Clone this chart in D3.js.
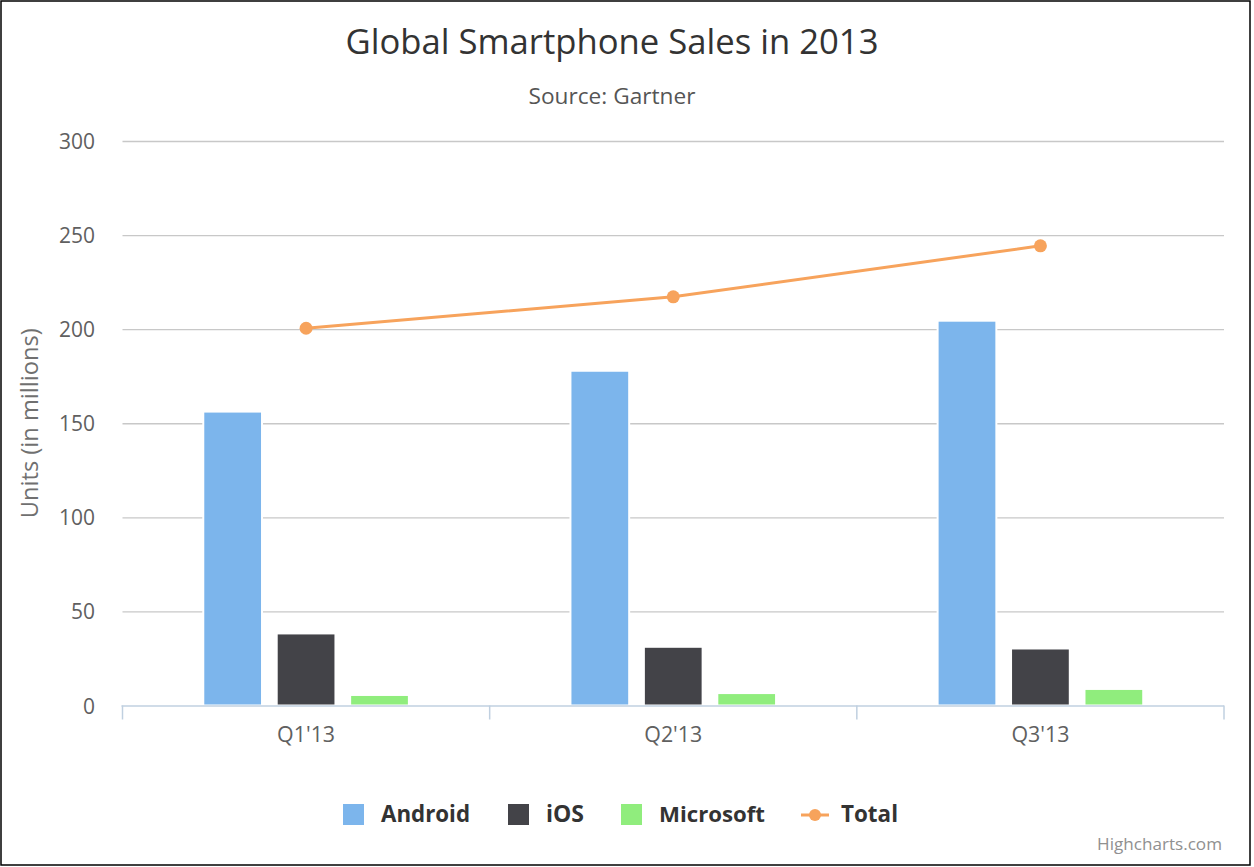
<!DOCTYPE html>
<html><head><meta charset="utf-8">
<script src="https://cdn.jsdelivr.net/npm/d3@7"></script>
<style>html,body{margin:0;padding:0;background:#fff;} svg{display:block;}</style>
</head><body>
<svg id="chart" width="1254" height="867"></svg>
<script>
const categories = ["Q1'13", "Q2'13", "Q3'13"];
const seriesNames = ["Android", "iOS", "Microsoft"];
const android = [156.2, 177.9, 204.5];
const ios = [38.3, 31.2, 30.3];
const microsoft = [5.6, 6.6, 8.8];
const total = [200.5, 217.2, 244.3];
const yTicks = [0, 50, 100, 150, 200, 250, 300];
const colors = {Android: "#7cb5ec", iOS: "#434348", Microsoft: "#90ed7d", Total: "#f7a35c"};

const FONT = "'Open Sans', 'DejaVu Sans', sans-serif";
const svg = d3.select("#chart");
svg.append("rect").attr("x", 0).attr("y", 0).attr("width", 1254).attr("height", 867).attr("fill", "#fff");
svg.append("rect").attr("x", 1).attr("y", 1).attr("width", 1249).attr("height", 864)
  .attr("fill", "none").attr("stroke", "#000").attr("stroke-width", 1.5);

const L = 122.5, R = 1224, T = 141, B = 705.5;
const x = d3.scaleBand().domain(categories).range([L, R]).padding(0);
const xs = d3.scaleBand().domain(seriesNames)
  .range([x.bandwidth() * 0.2, x.bandwidth() * 0.8]).paddingInner(0.2).paddingOuter(0.1);
const y = d3.scaleLinear().domain([0, 300]).range([B, T]);

function fitText(sel, w) {
  const n = sel.node();
  const fs = parseFloat(sel.attr("font-size"));
  const cw = n.getComputedTextLength();
  const nf = fs * w / cw;
  sel.attr("font-size", nf.toFixed(2));
  return nf;
}

// gridlines
const grid = svg.append("g").attr("transform", `translate(${L},0)`)
  .call(d3.axisLeft(y).tickValues(yTicks.slice(1)).tickSize(-(R - L)).tickFormat(""));
grid.select(".domain").remove();
grid.selectAll("line").attr("stroke", "#c8c8c8").attr("stroke-width", 1.3);

// y labels
const yAx = svg.append("g").attr("transform", `translate(95,0)`)
  .call(d3.axisLeft(y).tickValues(yTicks).tickSize(0).tickPadding(0));
yAx.select(".domain").remove();
const yLabels = yAx.selectAll("text").attr("font-family", FONT).attr("font-size", 16).attr("fill", "#606060")
  .attr("dy", "0.36em");
const yfs = fitText(yLabels.filter(d => d === 300), 36);
yLabels.attr("font-size", yfs.toFixed(2));

// bars
const seriesData = {Android: android, iOS: ios, Microsoft: microsoft};
seriesNames.forEach(s => {
  svg.append("g").selectAll("rect").data(categories).join("rect")
    .attr("x", c => x(c) + xs(s))
    .attr("y", (c, i) => y(seriesData[s][i]))
    .attr("width", xs.bandwidth())
    .attr("height", (c, i) => y(0) - y(seriesData[s][i]))
    .attr("fill", colors[s]).attr("stroke", "#fff").attr("stroke-width", 2);
});

// x axis line and ticks
svg.append("line").attr("x1", L - 1).attr("x2", R).attr("y1", B + 0.5).attr("y2", B + 0.5)
  .attr("stroke", "#c0d0e0").attr("stroke-width", 1.5);
const bounds = categories.map(c => x(c)).concat([x.range()[1]]);
svg.append("g").selectAll("line").data(bounds).join("line")
  .attr("x1", d => d).attr("x2", d => d).attr("y1", B).attr("y2", B + 14)
  .attr("stroke", "#c0d0e0").attr("stroke-width", 1.5);
const xAx = svg.append("g").attr("transform", `translate(0,${B})`)
  .call(d3.axisBottom(x).tickSize(0).tickPadding(0));
xAx.select(".domain").remove();
const xLabels = xAx.selectAll("text").attr("font-family", FONT).attr("font-size", 16).attr("fill", "#606060")
  .attr("dy", 0).attr("y", 36);
const xfs = fitText(xLabels.filter(d => d === categories[0]), 58);
xLabels.attr("font-size", xfs.toFixed(2));

// total line
const line = d3.line().x((d, i) => x(categories[i]) + x.bandwidth() / 2).y(d => y(d));
svg.append("path").datum(total).attr("d", line).attr("fill", "none")
  .attr("stroke", colors.Total).attr("stroke-width", 3);
svg.append("g").selectAll("circle").data(total).join("circle")
  .attr("cx", (d, i) => x(categories[i]) + x.bandwidth() / 2).attr("cy", d => y(d))
  .attr("r", 6.5).attr("fill", colors.Total);

// titles
const title = svg.append("text").attr("x", 612).attr("y", 54).attr("text-anchor", "middle")
  .attr("font-family", FONT).attr("font-size", 28).attr("fill", "#333333")
  .text("Global Smartphone Sales in 2013");
fitText(title, 533);
const sub = svg.append("text").attr("x", 612).attr("y", 104).attr("text-anchor", "middle")
  .attr("font-family", FONT).attr("font-size", 18).attr("fill", "#555555")
  .text("Source: Gartner");
fitText(sub, 167);
const yt = svg.append("text").attr("transform", `translate(38,${(T + B) / 2}) rotate(-90)`)
  .attr("text-anchor", "middle").attr("font-family", FONT).attr("font-size", 18).attr("fill", "#707070")
  .text("Units (in millions)");
fitText(yt, 190);

// legend
const legendItems = [
  {name: "Android", sx: 343, tx: 381, tw: 89},
  {name: "iOS", sx: 508, tx: 546, tw: 38},
  {name: "Microsoft", sx: 621, tx: 659, tw: 106},
  {name: "Total", sx: 801, tx: 841, tw: 57}
];
const lg = svg.append("g");
legendItems.forEach(it => {
  if (it.name === "Total") {
    lg.append("line").attr("x1", it.sx).attr("x2", it.sx + 28).attr("y1", 815).attr("y2", 815)
      .attr("stroke", colors.Total).attr("stroke-width", 3);
    lg.append("circle").attr("cx", it.sx + 14).attr("cy", 815).attr("r", 6).attr("fill", colors.Total);
  } else {
    lg.append("rect").attr("x", it.sx).attr("y", 804).attr("width", 21).attr("height", 21)
      .attr("fill", colors[it.name]);
  }
  const t = lg.append("text").attr("x", it.tx).attr("y", 822).attr("font-family", FONT)
    .attr("font-size", 18).attr("font-weight", "bold").attr("fill", "#333333").text(it.name);
  fitText(t, it.tw);
});

// credits
const cr = svg.append("text").attr("x", 1222).attr("y", 850).attr("text-anchor", "end")
  .attr("font-family", FONT).attr("font-size", 14).attr("fill", "#909090").text("Highcharts.com");
fitText(cr, 125);
</script>
</body></html>
